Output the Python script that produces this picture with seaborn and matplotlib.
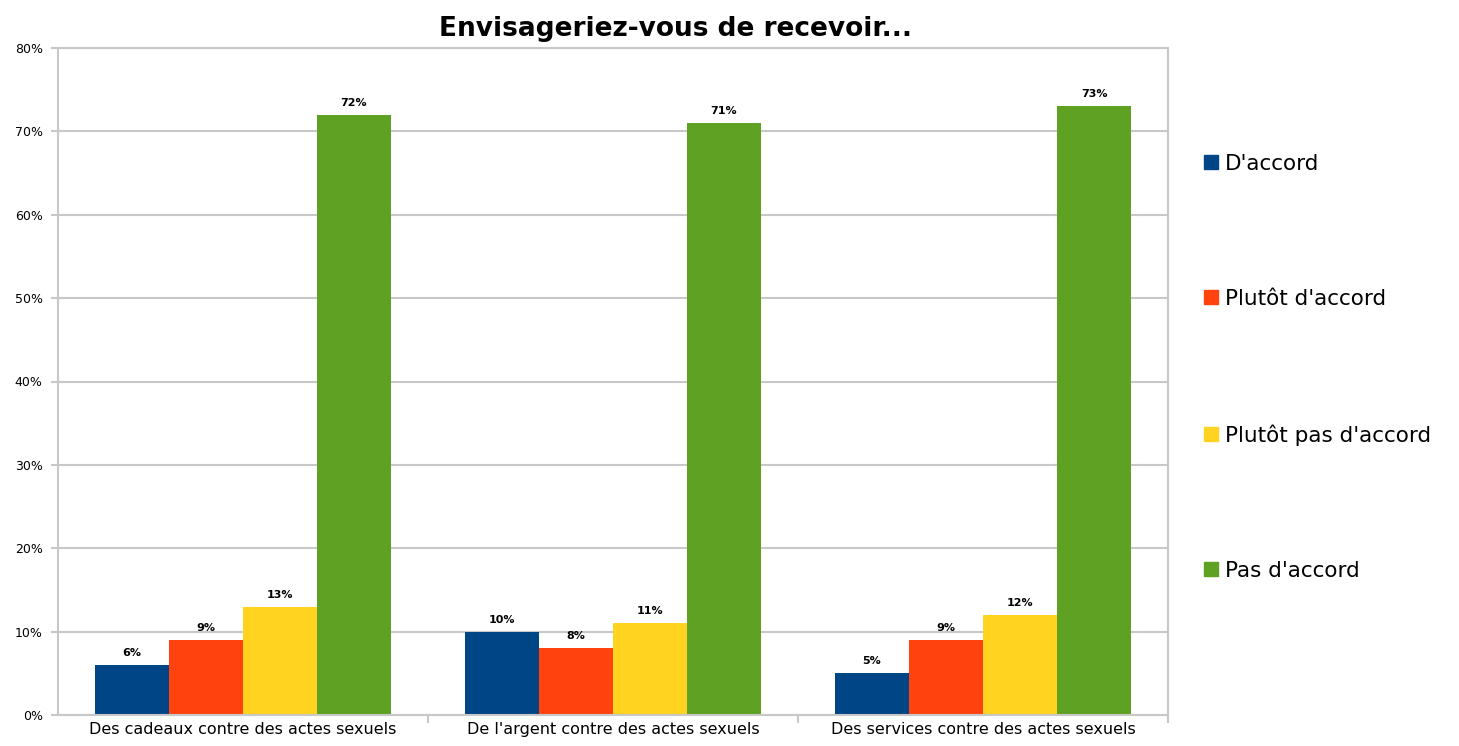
import matplotlib
matplotlib.use("Agg")
import matplotlib.pyplot as plt
import seaborn as sns
import pandas as pd
from matplotlib.ticker import PercentFormatter

categories = ["Des cadeaux contre des actes sexuels",
              "De l'argent contre des actes sexuels",
              "Des services contre des actes sexuels"]
answers = ["D'accord", "Plutôt d'accord", "Plutôt pas d'accord", "Pas d'accord"]
d_accord = [6, 10, 5]
plutot_accord = [9, 8, 9]
plutot_pas = [13, 11, 12]
pas_accord = [72, 71, 73]
colors = ["#004586", "#ff420e", "#ffd320", "#5ea123"]

rows = []
for ans, vals in zip(answers, [d_accord, plutot_accord, plutot_pas, pas_accord]):
    for cat, v in zip(categories, vals):
        rows.append({"cat": cat, "ans": ans, "val": v})
df = pd.DataFrame(rows)

sns.set_style("white")
plt.rcParams['font.family'] = ['DejaVu Sans']
plt.rcParams['text.color'] = 'black'
plt.rcParams['xtick.color'] = 'black'
plt.rcParams['ytick.color'] = 'black'

fig = plt.figure(figsize=(14.59, 7.46), dpi=100)
ax = fig.add_axes([58/1459, 31/746, 1110/1459, 667/746])
sns.barplot(data=df, x="cat", y="val", hue="ans", order=categories,
            hue_order=answers, palette=colors, width=0.8, saturation=1,
            linewidth=0, ax=ax, legend=False)

for cont in ax.containers:
    ax.bar_label(cont, labels=[f"{int(v)}%" for v in cont.datavalues],
                 padding=5, fontsize=8, fontweight="bold", color="black")

ax.set_ylim(0, 80)
ax.set_xlim(-0.5, 2.5)
ax.set_yticks(range(0, 81, 10))
ax.yaxis.set_major_formatter(PercentFormatter(decimals=0))
ax.yaxis.grid(True, color="#c8c8c8", linewidth=1.5)
ax.set_axisbelow(True)
ax.set_xlabel("")
ax.set_ylabel("")
for s in ax.spines.values():
    s.set_color("#c8c8c8")
    s.set_linewidth(1.5)
ax.tick_params(axis="y", left=True, length=5, color="#c8c8c8", width=1.5,
               labelcolor="black", labelsize=9, pad=6)
ax.tick_params(axis="x", which="major", length=0, labelcolor="black",
               labelsize=11.5, pad=5)
ax.set_xticks([0.5, 1.5, 2.5], minor=True)
ax.tick_params(axis="x", which="minor", bottom=True, length=6,
               color="#c8c8c8", width=1.5)

ax.set_title("Envisageriez-vous de recevoir...", fontsize=19, fontweight="bold",
             pad=9, color="black", x=0.556)

handles = [plt.Rectangle((0, 0), 1, 1, color=c) for c in colors]
leg = fig.legend(handles, answers, loc="upper left", bbox_to_anchor=(0.812, 0.82),
                 frameon=False, fontsize=15.5, labelspacing=5.35, handlelength=0.65,
                 handleheight=0.65, handletextpad=0.3)
for t in leg.get_texts():
    t.set_color("black")

fig.savefig("out.png", dpi=100)
